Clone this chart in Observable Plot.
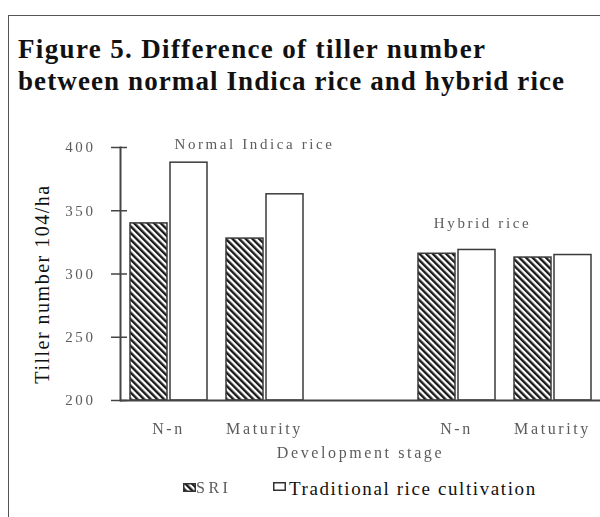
<!DOCTYPE html>
<html><head><meta charset="utf-8">
<script src="https://cdn.jsdelivr.net/npm/d3@7"></script>
<script src="https://cdn.jsdelivr.net/npm/@observablehq/plot@0.6"></script>
<style>
html,body{margin:0;padding:0;background:#fff;}
body{width:600px;height:517px;position:relative;overflow:hidden;font-family:"Liberation Serif",serif;}
#frame{position:absolute;left:8px;top:15px;width:700px;height:600px;border-left:1.5px solid #555;border-top:1.5px solid #555;}
#title{position:absolute;left:18px;top:33px;font-weight:bold;font-size:27px;line-height:32px;color:#111;white-space:nowrap;}
#title div:nth-child(1){letter-spacing:1.35px;}
#title div:nth-child(2){letter-spacing:1.1px;}
#chart{position:absolute;left:0;top:105px;}
.leg{position:absolute;white-space:nowrap;line-height:1;}
.sw{position:absolute;}
</style></head><body>
<svg width="0" height="0" style="position:absolute"><defs>
<pattern id="hatch" patternUnits="userSpaceOnUse" width="4.7" height="4.7" patternTransform="rotate(-45)">
<rect width="4.7" height="4.7" fill="#fff"/><rect width="2.4" height="4.7" fill="#1a1a1a"/></pattern></defs></svg>
<div id="frame"></div>
<div id="title"></div>
<div id="chart"></div>
<div id="legend"></div>
<script>
const titleLines = ["Figure 5. Difference of tiller number", "between normal Indica rice and hybrid rice"];
const varieties = ["Normal Indica rice", "Hybrid rice"];
const stageLabels = ["N-n", "Maturity"];
const methods = ["SRI", "Traditional rice cultivation"];
const sriValues = [340, 328, 316, 313];
const traditionalValues = [388, 363, 319, 315];
const yTicks = [200, 250, 300, 350, 400];
const yLabel = "Tiller number 104/ha";
const xLabel = "Development stage";
const annotationY = [402.8, 340.5];

const titleEl = document.getElementById("title");
titleLines.forEach(line => {
  const d = document.createElement("div");
  d.textContent = line;
  titleEl.appendChild(d);
});

const slotOf = (v, s) => v + "|" + s;
const gapKey = "gap";
const slots = [
  ...stageLabels.map(s => slotOf(varieties[0], s)),
  gapKey,
  ...stageLabels.map(s => slotOf(varieties[1], s))
];
const data = [];
varieties.forEach((v, vi) => stageLabels.forEach((s, si) => {
  const i = vi * stageLabels.length + si;
  data.push({slot: slotOf(v, s), method: methods[0], value: sriValues[i]});
  data.push({slot: slotOf(v, s), method: methods[1], value: traditionalValues[i]});
}));
const annotations = varieties.map((v, i) => ({text: v, y: annotationY[i]}));
const grey = "#5c5c5c";

const chart = Plot.plot({
  width: 600, height: 365,
  marginLeft: 119, marginRight: 0, marginTop: 42, marginBottom: 70,
  style: {fontFamily: "Liberation Serif", background: "transparent", overflow: "visible"},
  fx: {domain: slots, padding: 0, label: null},
  x: {domain: methods, paddingInner: 0.08, paddingOuter: 0.234, axis: null},
  y: {domain: [yTicks[0], yTicks[yTicks.length - 1]], label: null},
  color: {domain: methods, range: ["url(#hatch)", "#fff"]},
  marks: [
    Plot.barY(data, {fx: "slot", x: "method", y1: yTicks[0], y2: "value", fill: "method", stroke: "#3a3a3a", strokeWidth: 1.5}),
    Plot.ruleY([yTicks[0]], {stroke: "#444", strokeWidth: 2}),
    Plot.frame({anchor: "left", facetAnchor: "left", stroke: "#444", strokeWidth: 2}),
    Plot.axisY({ticks: yTicks, tickSize: 16, dx: 7, tickPadding: 16, tickFormat: d => String(d), fontSize: 15, fill: grey, stroke: "#444", strokeWidth: 1.5, label: null}),
    Plot.axisFx({anchor: "bottom", tickFormat: d => d === gapKey ? "" : d.split("|")[1], tickSize: 0, tickPadding: 22, fontSize: 16, fill: grey, label: null}),
    Plot.text([xLabel], {fx: () => gapKey, frameAnchor: "bottom", textAnchor: "middle", dy: 57, fontSize: 16, fill: grey}),
    Plot.text([yLabel], {fx: () => slots[0], frameAnchor: "left", textAnchor: "middle", rotate: -90, dx: -78, dy: 10, fontSize: 20, fill: "#111"}),
    Plot.text([annotations[0]], {fx: () => slots[1], y: "y", text: "text", dx: -10, fontSize: 15, fill: grey}),
    Plot.text([annotations[1]], {fx: () => slots[3], y: "y", text: "text", dx: 26, fontSize: 15, fill: grey})
  ]
});
document.getElementById("chart").appendChild(chart);
const svg = d3.select(chart);
// letter-spaced, soft grey texts as in the reference; y label less spaced and sharp
svg.selectAll("text").each(function() {
  const t = d3.select(this);
  if (t.text() === "") return;
  if (t.text() === yLabel) t.style("letter-spacing", "1.5px");
  else t.style("letter-spacing", "2.6px").style("filter", "blur(0.35px)");
});

// legend
const legend = document.getElementById("legend");
legend.innerHTML = `
<svg class="sw" style="left:183px;top:483px" width="13" height="9"><rect x="0.75" y="0.75" width="11.5" height="7.5" fill="url(#hatch)" stroke="#333" stroke-width="1.5"/></svg>
<div class="leg" style="left:196px;top:480px;font-size:16px;color:${grey};letter-spacing:3.5px;filter:blur(0.35px)">${methods[0]}</div>
<svg class="sw" style="left:273px;top:482px" width="13" height="9"><rect x="0.75" y="0.75" width="11.5" height="7.5" fill="#fff" stroke="#333" stroke-width="1.5"/></svg>
<div class="leg" style="left:289px;top:479px;font-size:19px;color:#111;letter-spacing:1.6px">${methods[1]}</div>`;
</script>
</body></html>
